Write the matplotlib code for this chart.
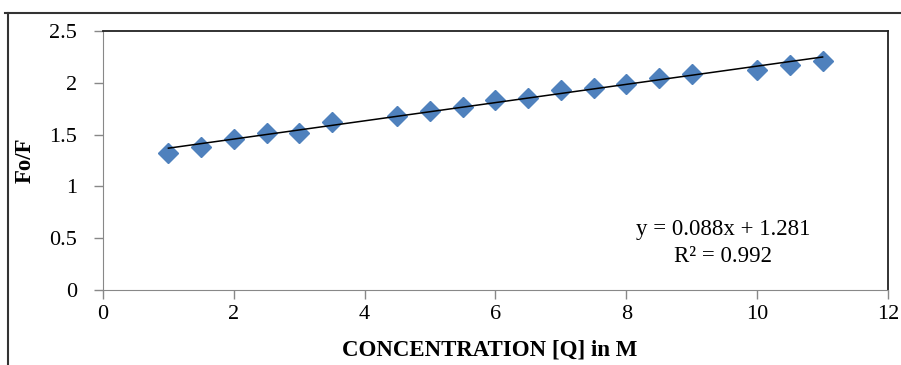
import numpy as np
import matplotlib.pyplot as plt
from matplotlib.lines import Line2D

# Stern-Volmer style data
conc = [1, 1.5, 2, 2.5, 3, 3.5, 4.5, 5, 5.5, 6, 6.5, 7, 7.5, 8, 8.5, 9, 10, 10.5, 11]
fo_f = [1.32, 1.38, 1.46, 1.52, 1.52, 1.62, 1.68, 1.73, 1.77, 1.83, 1.85, 1.93,
        1.95, 1.985, 2.05, 2.085, 2.12, 2.17, 2.21]
slope = 0.088
intercept = 1.281
r2 = 0.992

plt.rcParams['font.family'] = ['Liberation Serif', 'DejaVu Serif']

fig = plt.figure(figsize=(9.01, 3.65), dpi=100)
ax = fig.add_axes([103 / 901, 1 - 290 / 365, (888 - 103) / 901, (290 - 31) / 365])

ax.plot(conc, fo_f, 'D', color='#4F81BD', markersize=10, zorder=2)
xfit = np.array([conc[0], conc[-1]])
ax.plot(xfit, slope * xfit + intercept, color='black', lw=1.1, zorder=3)

ax.set_xlim(0, 12)
ax.set_ylim(0, 2.5)
ax.set_xticks(range(0, 13, 2))
ax.set_yticks([0, 0.5, 1, 1.5, 2, 2.5])
ax.set_yticklabels(['0', '0.5', '1', '1.5', '2', '2.5'])
ax.tick_params(labelsize=16, length=6.5, color='#888888', width=1)
ax.tick_params(axis='y', pad=12)
ax.tick_params(axis='x', pad=4)

for side in ['left', 'bottom']:
    ax.spines[side].set_color('#888888')
for side in ['top', 'right']:
    ax.spines[side].set_color('#222222')
    ax.spines[side].set_linewidth(1.3)

ax.set_xlabel('CONCENTRATION [Q] in M', fontsize=16.5, fontweight='bold')
ax.set_ylabel('Fo/F', fontsize=16.5, fontweight='bold')
ax.xaxis.label.set_va('center')
ax.yaxis.label.set_va('center')
ax.xaxis.set_label_coords(0.492, -0.232)
ax.yaxis.set_label_coords(-0.099, 0.5)

ax.text(9.48, 0.58, 'y = 0.088x + 1.281', fontsize=16.5, ha='center', va='center')
ax.text(9.48, 0.32, 'R² = 0.992', fontsize=16.5, ha='center', va='center')

# outer chart-area border (cropped)
fig.add_artist(Line2D([5 / 901, 1], [1 - 13 / 365] * 2, color='#333333', lw=1.5,
                      transform=fig.transFigure))
fig.add_artist(Line2D([8 / 901] * 2, [0, 1 - 13 / 365], color='#333333', lw=1.5,
                      transform=fig.transFigure))

fig.savefig('out.png', dpi=100)
